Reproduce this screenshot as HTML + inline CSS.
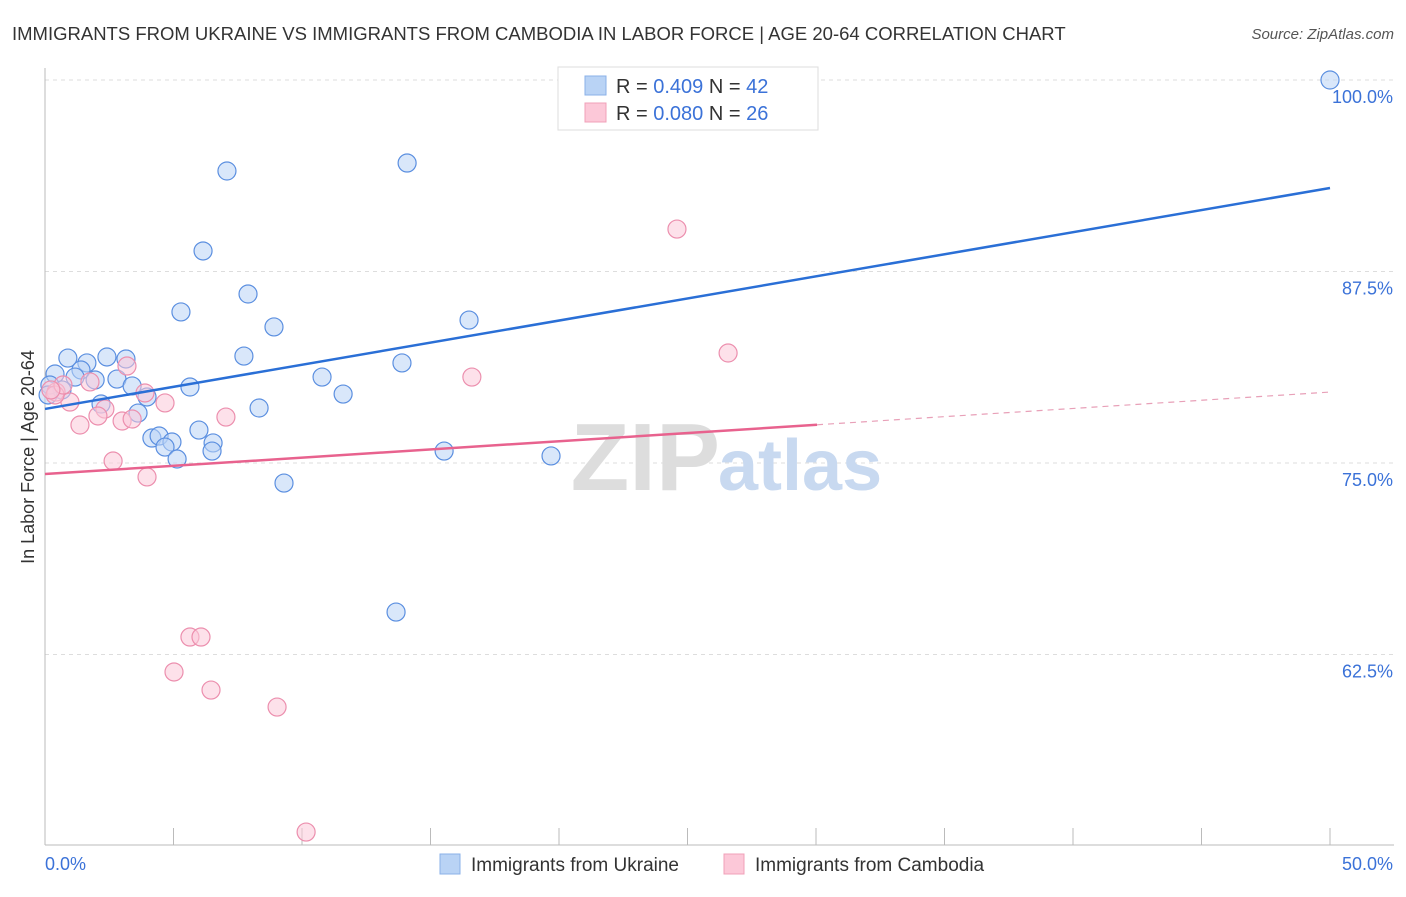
<!DOCTYPE html>
<html><head><meta charset="utf-8"><style>
body{margin:0;background:#fff;font-family:"Liberation Sans",sans-serif;}
svg text{font-family:"Liberation Sans",sans-serif;}
</style></head><body>
<svg id="chart" width="1406" height="892" xmlns="http://www.w3.org/2000/svg">
<text x="12" y="40" font-size="18.5" fill="#333">IMMIGRANTS FROM UKRAINE VS IMMIGRANTS FROM CAMBODIA IN LABOR FORCE | AGE 20-64 CORRELATION CHART</text>
<text x="1394" y="39" font-size="15" fill="#555" text-anchor="end" font-style="italic">Source: ZipAtlas.com</text>
<g id="grid"></g>
<text x="720" y="490" font-size="96" text-anchor="end" fill="#ddd" font-family="Liberation Serif" font-weight="bold">ZIP</text>
<text x="718" y="490" font-size="72" fill="#c8d9f0" font-weight="bold">atlas</text>
<line x1="45" y1="845" x2="1394" y2="845" stroke="#bbb"/>
<line x1="45" y1="68" x2="45" y2="845" stroke="#bbb"/>
<text transform="translate(34,457) rotate(-90)" text-anchor="middle" font-size="18" fill="#333">In Labor Force | Age 20-64</text>
<text x="45" y="870" font-size="18" fill="#3b72d8">0.0%</text>
<text x="1393" y="870" font-size="18" fill="#3b72d8" text-anchor="end">50.0%</text>
<g id="marks"></g>
<g>
<rect x="558" y="67" width="260" height="63" fill="#fff" stroke="#ddd"/>
<rect x="585" y="76" width="21" height="19" fill="#b9d3f5" stroke="#8ab0e8"/>
<rect x="585" y="103" width="21" height="19" fill="#fcc8d8" stroke="#f0a0b8"/>
<text x="616" y="93" font-size="20" fill="#333">R = <tspan fill="#3b72d8">0.409</tspan>   N = <tspan fill="#3b72d8">42</tspan></text>
<text x="616" y="120" font-size="20" fill="#333">R = <tspan fill="#3b72d8">0.080</tspan>   N = <tspan fill="#3b72d8">26</tspan></text>
</g>
<g>
<rect x="440" y="854" width="20" height="20" fill="#b9d3f5" stroke="#8ab0e8"/>
<text x="471" y="871" font-size="19" fill="#333">Immigrants from Ukraine</text>
<rect x="724" y="854" width="20" height="20" fill="#fcc8d8" stroke="#f0a0b8"/>
<text x="755" y="871" font-size="19" fill="#333">Immigrants from Cambodia</text>
</g>
</svg>
<script>
const yTicks=[100,87.5,75,62.5];
const yTickLabels=["100.0%","87.5%","75.0%","62.5%"];
const xTicks=[0,5,10,15,20,25,30,35,40,45,50];
const ukraineX=[50.0,14.09,7.08,6.15,7.90,5.29,8.91,16.50,0.89,2.41,3.15,1.63,1.40,0.39,7.74,13.89,10.78,1.17,2.80,1.95,3.39,5.64,0.66,3.97,11.60,2.18,3.62,8.33,5.99,4.16,4.44,4.94,4.67,6.54,6.50,5.14,15.53,19.69,9.30,13.66,0.19,0.12];
const ukraineY=[100,94.58,94.06,88.84,86.03,84.86,83.88,84.33,81.85,81.92,81.79,81.53,81.07,80.81,81.98,81.53,80.61,80.61,80.48,80.42,80.03,79.96,79.77,79.31,79.50,78.85,78.26,78.59,77.15,76.63,76.76,76.37,76.04,76.31,75.78,75.26,75.78,75.46,73.69,65.27,80.09,79.44];
const cambodiaX=[24.59,26.58,16.61,3.19,1.75,2.33,3.89,4.67,0.43,0.97,2.06,1.36,3.00,3.39,7.04,2.65,3.97,5.64,6.07,5.02,6.46,9.03,10.16,0.39,0.70,0.23];
const cambodiaY=[90.27,82.18,80.61,81.33,80.29,78.52,79.57,78.92,79.63,78.98,78.07,77.48,77.74,77.87,78.0,75.13,74.09,63.64,63.64,61.36,60.18,59.07,50.91,79.44,80.09,79.77];
const ukraineTrend=[78.53,92.95];
const cambodiaTrend=[74.28,79.63];
const cambodiaSolidEnd=30.04;
const NS="http://www.w3.org/2000/svg";
function sx(v){return 45+v*25.7;}
function sy(v){return 80+(100-v)/12.5*191.5;}
function mk(tag,attrs,parent){const e=document.createElementNS(NS,tag);for(const k in attrs)e.setAttribute(k,attrs[k]);parent.appendChild(e);return e;}
const grid=document.getElementById('grid'),marks=document.getElementById('marks');
yTicks.forEach((t,i)=>{
 const l=mk('line',{x1:45,x2:1394,y1:sy(t),y2:sy(t),stroke:'#ddd','stroke-dasharray':'4,4'},grid);
 
 
 const tx=mk('text',{x:1393,y:sy(t)+23,'font-size':18,fill:'#3b72d8','text-anchor':'end'},grid);
 tx.textContent=yTickLabels[i];
 
 
});
xTicks.forEach(t=>{
 const l=mk('line',{x1:sx(t),x2:sx(t),y1:828,y2:845,stroke:'#bbb'},grid);
 
 
});
function pts(xs,ys,fill,stroke,name){xs.forEach((x,i)=>{
 const c=mk('circle',{cx:sx(x),cy:sy(ys[i]),r:9,fill:fill,'fill-opacity':0.55,stroke:stroke,'stroke-width':1.2},marks);
 
 
});}
pts(ukraineX,ukraineY,'#b9d3f5','#5b8fe0','ukraine-point');
pts(cambodiaX,cambodiaY,'#fcc8d8','#ec8fae','cambodia-point');
const bl=mk('line',{x1:sx(0),y1:sy(ukraineTrend[0]),x2:sx(50),y2:sy(ukraineTrend[1]),stroke:'#2a6fd6','stroke-width':2.5},marks);


const cy=v=>cambodiaTrend[0]+(cambodiaTrend[1]-cambodiaTrend[0])*v/50;
const pl=mk('line',{x1:sx(0),y1:sy(cambodiaTrend[0]),x2:sx(cambodiaSolidEnd),y2:sy(cy(cambodiaSolidEnd)),stroke:'#e8628e','stroke-width':2.5},marks);


const pd=mk('line',{x1:sx(cambodiaSolidEnd),y1:sy(cy(cambodiaSolidEnd)),x2:sx(50),y2:sy(cambodiaTrend[1]),stroke:'#e8a0b8','stroke-width':1.2,'stroke-dasharray':'6,5'},marks);


</script>
</body></html>
